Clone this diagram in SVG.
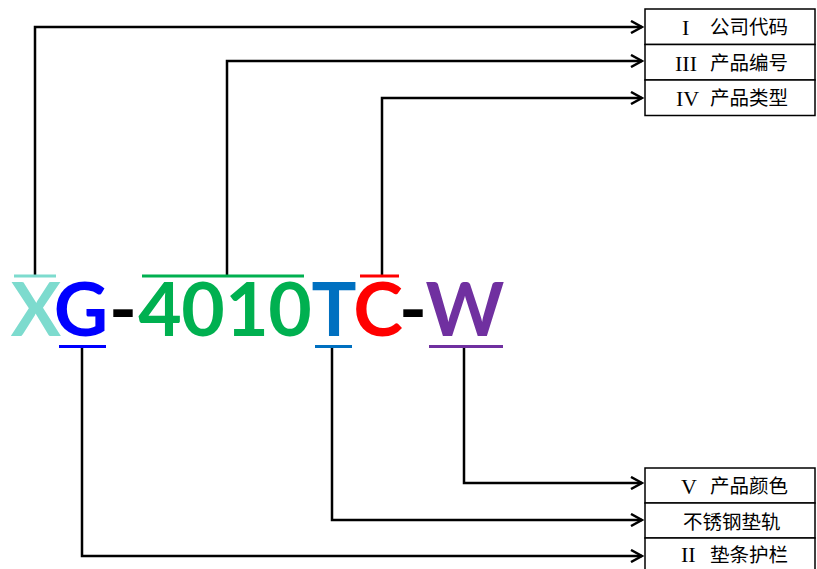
<svg xmlns="http://www.w3.org/2000/svg" width="817" height="569" viewBox="0 0 817 569">
<defs>
<marker id="arr" markerWidth="14" markerHeight="14" refX="12" refY="7" orient="auto" markerUnits="userSpaceOnUse">
<path d="M1,1 L12,7 L1,13" fill="none" stroke="#000" stroke-width="2.5"/>
</marker>
<style>
.c{fill:none;stroke:#000;stroke-width:2.5}
.box{fill:#fff;stroke:#000;stroke-width:1.5}
.big{font-family:Lato,"Liberation Sans",sans-serif;font-weight:bold;font-size:75px;text-anchor:middle}
.lbl{font-family:"Liberation Serif","Noto Sans CJK SC",serif;font-size:22px;fill:#000}
.cjk{font-family:"Noto Sans CJK SC",sans-serif;font-size:19.5px;fill:#000}
.bar{stroke-width:3}
</style>
</defs>
<rect width="817" height="569" fill="#fff"/>
<g id="connectors">
<path class="c" d="M35,275 V27 H642" marker-end="url(#arr)"/>
<path class="c" d="M227,275 V61 H642" marker-end="url(#arr)"/>
<path class="c" d="M382,275 V98 H642" marker-end="url(#arr)"/>
<path class="c" d="M464,348 V483 H642" marker-end="url(#arr)"/>
<path class="c" d="M332,348 V520 H642" marker-end="url(#arr)"/>
<path class="c" d="M82,348 V556 H642" marker-end="url(#arr)"/>
</g>
<g id="code">
<text class="big" y="336"><tspan x="36" fill="#7DDBCE">X</tspan><tspan x="81" fill="#0000FF">G</tspan><tspan x="123" fill="#000">-</tspan><tspan x="160" fill="#00B050">4</tspan><tspan x="203" fill="#00B050">0</tspan><tspan x="247" fill="#00B050">1</tspan><tspan x="290" fill="#00B050">0</tspan><tspan x="334" fill="#0070C0">T</tspan><tspan x="378" fill="#FF0000">C</tspan><tspan x="413" fill="#000">-</tspan><tspan x="465" fill="#7030A0">W</tspan></text>
<line class="bar" x1="14" y1="276" x2="56" y2="276" stroke="#7DDBCE"/>
<line class="bar" x1="142" y1="276" x2="304" y2="276" stroke="#00B050"/>
<line class="bar" x1="360" y1="276" x2="399" y2="276" stroke="#FF0000"/>
<line class="bar" x1="59" y1="346.5" x2="106" y2="346.5" stroke="#0000FF"/>
<line class="bar" x1="315" y1="346.5" x2="352" y2="346.5" stroke="#0070C0"/>
<line class="bar" x1="429" y1="346.5" x2="503" y2="346.5" stroke="#7030A0"/>
</g>
<g id="box-1">
<rect class="box" x="645" y="9" width="170" height="35.5"/>
<text class="lbl" x="682" y="35">I</text>
<text class="cjk" x="710" y="34">公司代码</text>
</g>
<g id="box-3">
<rect class="box" x="645" y="44.5" width="170" height="35.5"/>
<text class="lbl" x="675" y="71">III</text>
<text class="cjk" x="710" y="70">产品编号</text>
</g>
<g id="box-4">
<rect class="box" x="645" y="80" width="170" height="35.5"/>
<text class="lbl" x="676" y="106">IV</text>
<text class="cjk" x="710" y="105">产品类型</text>
</g>
<g id="box-5">
<rect class="box" x="645" y="468" width="170" height="35"/>
<text class="lbl" x="681" y="494">V</text>
<text class="cjk" x="710" y="493">产品颜色</text>
</g>
<g id="box-ss">
<rect class="box" x="645" y="503" width="170" height="35"/>
<text class="cjk" x="683" y="529">不锈钢垫轨</text>
</g>
<g id="box-2">
<rect class="box" x="645" y="538" width="170" height="35"/>
<text class="lbl" x="681" y="562">II</text>
<text class="cjk" x="710" y="562">垫条护栏</text>
</g>
</svg>
